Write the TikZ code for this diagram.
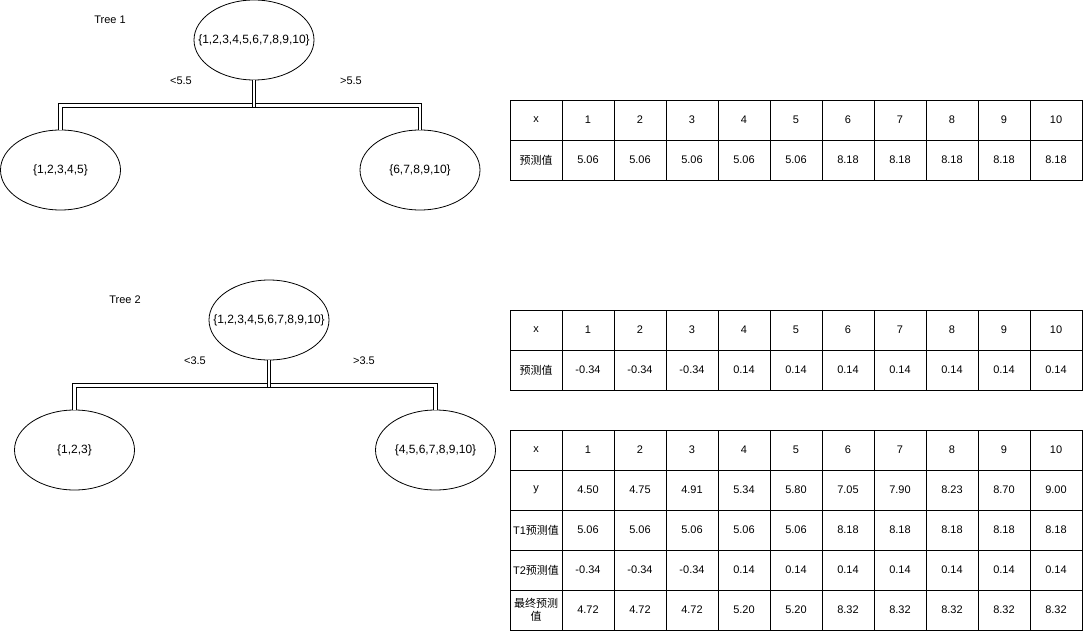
\documentclass[tikz,border=0pt]{standalone}
\usepackage{fontspec}
\setmainfont{Liberation Sans}
\newfontfamily\cjk{Noto Sans CJK SC}
\usetikzlibrary{shapes.geometric}
\tikzset{
x=1pt,
y=-1pt,
every node/.style={font=\fontsize{11}{13}\selectfont},
set/.style={ellipse, draw, line width=0.8pt, minimum width=120pt, minimum height=80pt, inner sep=0pt, font=\fontsize{12}{14}\selectfont},
branch/.style={draw, double, double distance=2.4pt, line width=1pt},
cell/.style={draw, line width=0.8pt, minimum width=52pt, minimum height=40pt, inner sep=0pt, align=center},
}

\begin{document}
\begin{tikzpicture}

    \useasboundingbox (0,0) rectangle (1083,631);

    \node (title1) at (110,20) {Tree 1};
    \node[set] (t1root) at (254,40) {\makebox[0pt]{\{1,2,3,4,5,6,7,8,9,10\}}};
    \node[set] (t1left) at (60.5,170) {\makebox[0pt]{\{1,2,3,4,5\}}};
    \node[set] (t1right) at (420,170) {\makebox[0pt]{\{6,7,8,9,10\}}};

    \draw[branch] (t1left.north) -- ++(0,-24) -| (t1right.north);
    \draw[branch] (t1root.south) -- ++(0,27);
    \node (t1lt) at (181,81) {<5.5};
    \node (t1gt) at (351,81) {>5.5};

    \node (title2) at (125,300) {Tree 2};
    \node[set] (t2root) at (269,320) {\makebox[0pt]{\{1,2,3,4,5,6,7,8,9,10\}}};
    \node[set] (t2left) at (74.5,450) {\makebox[0pt]{\{1,2,3\}}};
    \node[set] (t2right) at (435.5,450) {\makebox[0pt]{\{4,5,6,7,8,9,10\}}};

    \draw[branch] (t2left.north) -- ++(0,-24) -| (t2right.north);
    \draw[branch] (t2root.south) -- ++(0,27);
    \node (t2lt) at (195,361) {<3.5};
    \node (t2gt) at (364,361) {>3.5};

    \foreach \tab/\top in {ta/100, tb/310, tc/430}
        \foreach \v [count=\c from 0] in {x,1,2,3,4,5,6,7,8,9,10}
            \node[cell] (\tab-0-\c) at (536+52*\c,\top+20) {\v};

    \foreach \v [count=\c from 0] in {{\cjk 预测值},5.06,5.06,5.06,5.06,5.06,8.18,8.18,8.18,8.18,8.18}
        \node[cell] (ta-1-\c) at (536+52*\c,160) {\v};

    \foreach \v [count=\c from 0] in {{\cjk 预测值},-0.34,-0.34,-0.34,0.14,0.14,0.14,0.14,0.14,0.14,0.14}
        \node[cell] (tb-1-\c) at (536+52*\c,370) {\v};

    \foreach \v [count=\c from 0] in {y,4.50,4.75,4.91,5.34,5.80,7.05,7.90,8.23,8.70,9.00}
        \node[cell] (tc-1-\c) at (536+52*\c,490) {\v};
    \foreach \v [count=\c from 0] in {{T1\cjk 预测值},5.06,5.06,5.06,5.06,5.06,8.18,8.18,8.18,8.18,8.18}
        \node[cell] (tc-2-\c) at (536+52*\c,530) {\v};
    \foreach \v [count=\c from 0] in {{T2\cjk 预测值},-0.34,-0.34,-0.34,0.14,0.14,0.14,0.14,0.14,0.14,0.14}
        \node[cell] (tc-3-\c) at (536+52*\c,570) {\v};
    \foreach \v [count=\c from 0] in {{{\cjk 最终预测}\\{\cjk 值}},4.72,4.72,4.72,5.20,5.20,8.32,8.32,8.32,8.32,8.32}
        \node[cell] (tc-4-\c) at (536+52*\c,610) {\v};

\end{tikzpicture}
\end{document}
